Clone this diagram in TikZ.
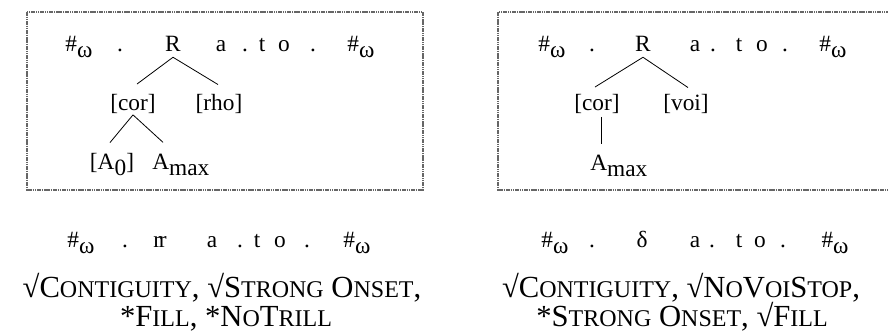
\documentclass[tikz,border=0pt]{standalone}
\usepackage{fontspec}
\setmainfont{Liberation Serif}
\usetikzlibrary{positioning, calc}

% word boundary, lowered subscript, fake small caps
\newcommand\hw{\#\raisebox{-0.25em}{ω}}
\newcommand\lowsub[1]{\raisebox{-0.25em}{#1}}
\newcommand\sck[1]{{\fontsize{18pt}{21pt}\selectfont #1}}

\tikzset{
  frame/.style={draw=black!60, line width=1.6pt, dash pattern=on 1.2pt off 0.5pt},
  seg/.style={inner sep=0pt, anchor=base, font=\fontsize{17.5pt}{20pt}\selectfont},
  branch/.style={line width=0.6pt},
  verdict/.style={inner sep=0pt, anchor=base, font=\fontsize{23pt}{26pt}\selectfont}
}

\begin{document}
\begin{tikzpicture}[x=0.75pt, y=-0.75pt]
    \useasboundingbox (0,0) rectangle (888,334);

    % Frames
    \draw[frame] (27,12) rectangle (423,190);
    \draw[frame] (890,12) -- (498,12) -- (498,190) -- (890,190);

    % Left candidate: underlying string
    \foreach \x/\s [count=\i] in {79/\hw, 120/., 221/a, 245/., 262/t, 284/o, 313/., 361/\hw} {
        \node[seg] (la\i) at (\x,52) {\s};
    }
    \node[seg] (lR) at (173,52) {R};
    \node[seg] (lcor) at (133,111) {[cor]};
    \node[seg] (lrho) at (219,111) {[rho]};
    \node[seg] (lA0) at (112,170) {[A\lowsub{0}]};
    \node[seg, anchor=base west] (lAmax) at (152,170) {A\lowsub{max}};

    \draw[branch] ([shift={(0,5)}]lR.south) -- ([shift={(4,-10.5)}]lcor.north);
    \draw[branch] ([shift={(0,5)}]lR.south) -- ([shift={(-1,-10)}]lrho.north);
    \draw[branch] ([shift={(0,0.5)}]lcor.south) -- ([shift={(-2,-11)}]lA0.north);
    \draw[branch] ([shift={(0,0.5)}]lcor.south) -- ([shift={(11,-12)}]lAmax.north west);

    % Right candidate: underlying string
    \foreach \x/\s [count=\i] in {552/\hw, 592/., 695/a, 713/., 739/t, 762/o, 785/., 833/\hw} {
        \node[seg] (ra\i) at (\x,52) {\s};
    }
    \node[seg] (rR) at (643,52) {R};
    \node[seg] (rcor) at (597,111) {[cor]};
    \node[seg] (rvoi) at (686,111) {[voi]};
    \node[seg, anchor=base west] (rAmax) at (590,171) {A\lowsub{max}};

    \draw[branch] ([shift={(0,5)}]rR.south) -- ([shift={(-2,-7.5)}]rcor.north);
    \draw[branch] ([shift={(0,5)}]rR.south) -- ([shift={(2,-7)}]rvoi.north);
    \draw[branch] ([shift={(4,2.5)}]rcor.south) -- ([shift={(11,-11)}]rAmax.north west);

    % Surface forms
    \foreach \x/\s [count=\i] in {81/\hw, 125/., 160/r\kern-0.1em r, 212/a, 240/., 257/t, 280/o, 307/., 357/\hw} {
        \node[seg] (lo\i) at (\x,248) {\s};
    }
    \foreach \x/\s [count=\i] in {555/\hw, 592/., 642/δ, 695/a, 712/., 739/t, 760/o, 783/., 835/\hw} {
        \node[seg] (ro\i) at (\x,248) {\s};
    }

    % Constraint verdicts
    \node[verdict] (lv1) at (222,298) {√C\sck{ONTIGUITY}, √S\sck{TRONG} O\sck{NSET},};
    \node[verdict] (lv2) at (226,327) {*F\sck{ILL}, *N\sck{O}T\sck{RILL}};
    \node[verdict] (rv1) at (681,298) {√C\sck{ONTIGUITY}, √N\sck{O}V\sck{OI}S\sck{TOP},};
    \node[verdict] (rv2) at (682,327) {*S\sck{TRONG} O\sck{NSET}, √F\sck{ILL}};
\end{tikzpicture}
\end{document}
